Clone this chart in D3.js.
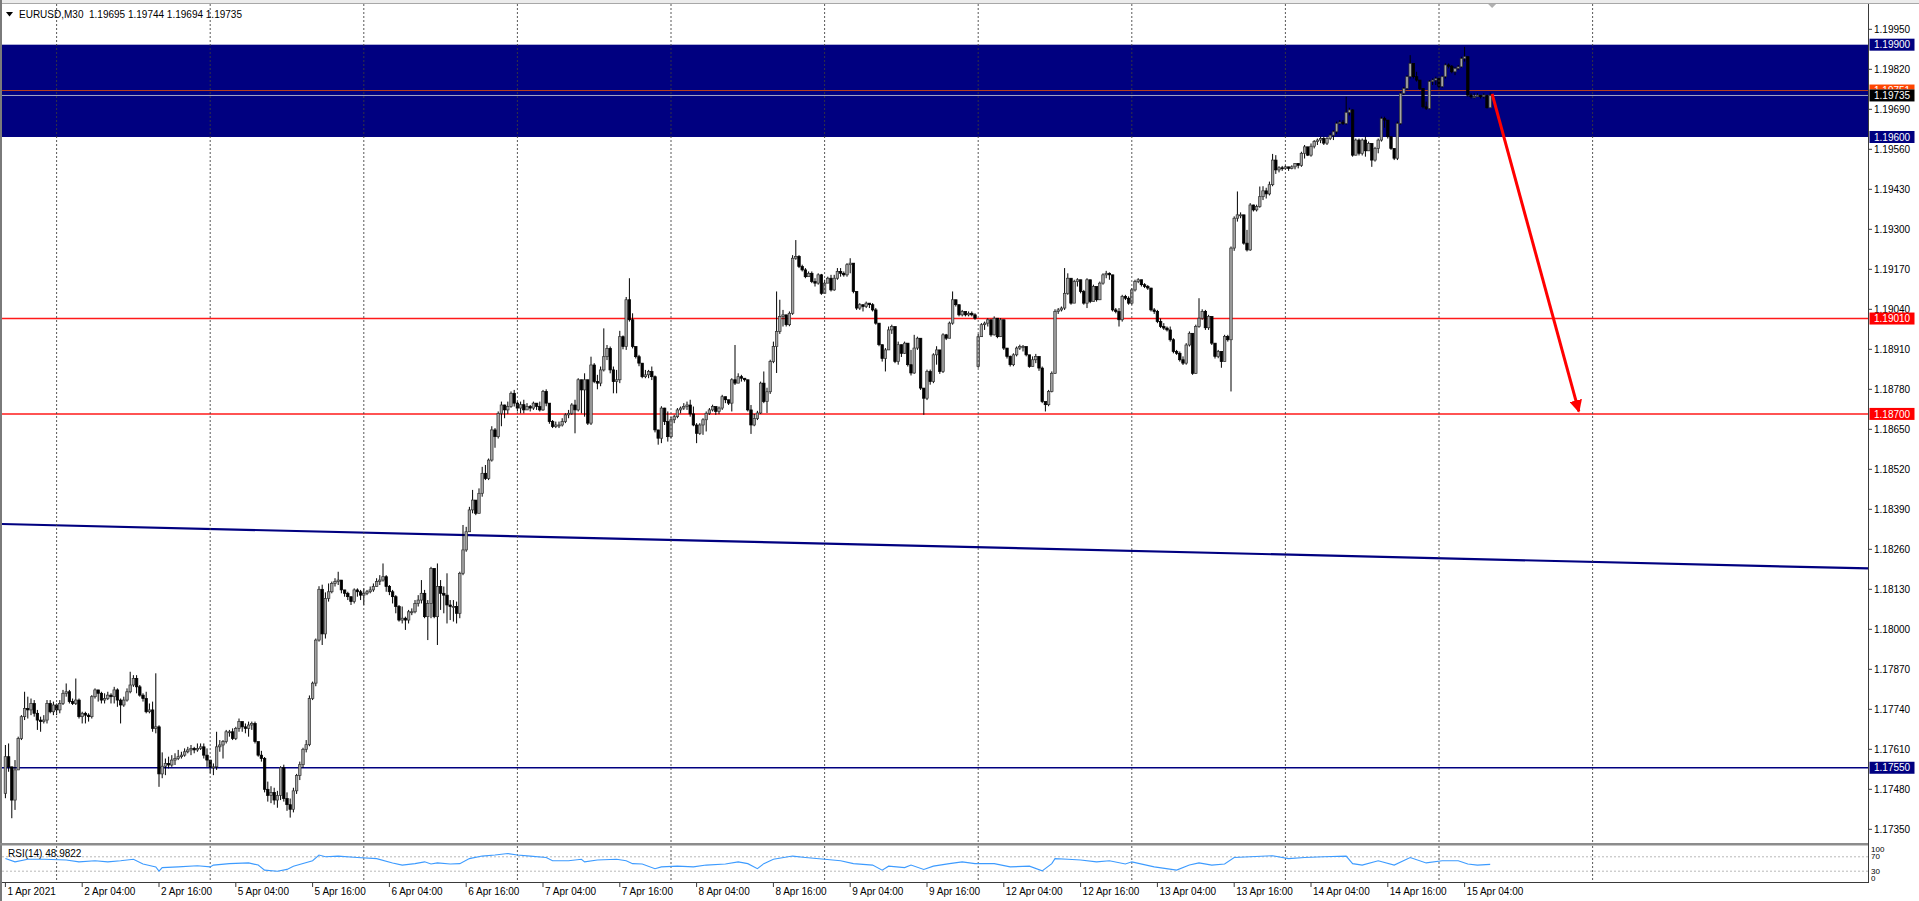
<!DOCTYPE html>
<html><head><meta charset="utf-8">
<script src="https://cdnjs.cloudflare.com/ajax/libs/d3/7.8.5/d3.min.js"></script>
<style>html,body{margin:0;padding:0;background:#fff;overflow:hidden}svg{display:block}text{font-family:"Liberation Sans",Arial,sans-serif}</style>
</head><body><svg id="c" width="1919" height="901"></svg>
<script>
// ---------------- DATA (EURUSD M30, bar 0 = 1 Apr 2021 16:00) ----------------
const opens=[1.17467,1.17586,1.17553,1.17445,1.17543,1.17645,1.17716,1.17743,1.17738,1.17759,
1.17727,1.17705,1.17700,1.17705,1.17759,1.17732,1.17754,1.17738,1.17759,1.17792,
1.17797,1.17765,1.17759,1.17770,1.17716,1.17727,1.17721,1.17716,1.17781,1.17803,
1.17792,1.17770,1.17775,1.17786,1.17781,1.17803,1.17770,1.17754,1.17770,1.17797,
1.17819,1.17840,1.17813,1.17786,1.17775,1.17732,1.17738,1.17678,1.17683,1.17530,
1.17555,1.17564,1.17559,1.17575,1.17580,1.17586,1.17591,1.17602,1.17608,1.17613,
1.17608,1.17613,1.17618,1.17591,1.17575,1.17553,1.17553,1.17618,1.17624,1.17635,
1.17667,1.17667,1.17645,1.17678,1.17700,1.17683,1.17678,1.17689,1.17694,1.17635,
1.17591,1.17580,1.17480,1.17460,1.17470,1.17445,1.17460,1.17550,1.17450,1.17430,
1.17415,1.17475,1.17525,1.17560,1.17610,1.17625,1.17775,1.17825,1.17965,1.18130,
1.17985,1.18100,1.18122,1.18149,1.18155,1.18160,1.18128,1.18117,1.18106,1.18090,
1.18128,1.18122,1.18111,1.18117,1.18122,1.18128,1.18139,1.18155,1.18160,1.18171,
1.18139,1.18122,1.18106,1.18074,1.18030,1.18036,1.18030,1.18057,1.18057,1.18084,
1.18095,1.18117,1.18041,1.18084,1.18198,1.18041,1.18139,1.18117,1.18111,1.18079,
1.18074,1.18074,1.18052,1.18182,1.18258,1.18317,1.18388,1.18420,1.18377,1.18442,
1.18507,1.18490,1.18550,1.18648,1.18626,1.18702,1.18729,1.18713,1.18724,1.18767,
1.18735,1.18719,1.18730,1.18713,1.18724,1.18719,1.18735,1.18724,1.18713,1.18773,
1.18735,1.18675,1.18659,1.18664,1.18664,1.18675,1.18697,1.18702,1.18729,1.18713,
1.18811,1.18778,1.18811,1.18670,1.18859,1.18805,1.18800,1.18843,1.18886,1.18913,
1.18843,1.18805,1.18811,1.18951,1.18919,1.19071,1.19006,1.18919,1.18886,1.18865,
1.18821,1.18827,1.18838,1.18821,1.18648,1.18621,1.18719,1.18675,1.18626,1.18681,
1.18691,1.18713,1.18719,1.18724,1.18729,1.18700,1.18664,1.18637,1.18664,1.18681,
1.18702,1.18713,1.18724,1.18708,1.18719,1.18756,1.18746,1.18735,1.18811,1.18800,
1.18821,1.18816,1.18811,1.18713,1.18664,1.18685,1.18703,1.18800,1.18740,1.18772,
1.18870,1.18919,1.18968,1.19017,1.19022,1.18990,1.19027,1.19206,1.19212,1.19179,
1.19168,1.19146,1.19157,1.19130,1.19125,1.19152,1.19092,1.19125,1.19141,1.19103,
1.19141,1.19163,1.19157,1.19152,1.19185,1.19190,1.19098,1.19044,1.19055,1.19049,
1.19060,1.19055,1.19038,1.18995,1.18925,1.18880,1.18908,1.18973,1.18984,1.18870,
1.18925,1.18897,1.18930,1.18860,1.18833,1.18914,1.18946,1.18784,1.18751,1.18838,
1.18805,1.18892,1.18908,1.18838,1.18957,1.18946,1.18995,1.19071,1.19055,1.19022,
1.19033,1.19022,1.19027,1.19022,1.18854,1.18951,1.18990,1.18995,1.19006,1.18957,
1.19011,1.18951,1.19006,1.18914,1.18887,1.18860,1.18892,1.18914,1.18919,1.18919,
1.18892,1.18854,1.18876,1.18887,1.18849,1.18740,1.18730,1.18773,1.18832,1.19033,
1.19038,1.19044,1.19092,1.19141,1.19060,1.19130,1.19136,1.19098,1.19060,1.19136,
1.19065,1.19114,1.19071,1.19125,1.19152,1.19157,1.19152,1.19038,1.19033,1.19006,
1.19082,1.19076,1.19060,1.19103,1.19130,1.19136,1.19120,1.19114,1.19109,1.19038,
1.19033,1.19000,1.18984,1.18979,1.18973,1.18941,1.18903,1.18897,1.18876,1.18865,
1.18924,1.18962,1.18832,1.18984,1.19011,1.19033,1.18980,1.19017,1.18930,1.18887,
1.18903,1.18870,1.18952,1.18941,1.19239,1.19336,1.19347,1.19347,1.19255,1.19233,
1.19379,1.19363,1.19374,1.19406,1.19425,1.19415,1.19445,1.19525,1.19493,1.19500,
1.19498,1.19503,1.19498,1.19503,1.19514,1.19508,1.19547,1.19568,1.19541,1.19570,
1.19585,1.19590,1.19595,1.19580,1.19595,1.19606,1.19617,1.19644,1.19648,1.19644,
1.19680,1.19688,1.19541,1.19590,1.19547,1.19590,1.19555,1.19579,1.19525,1.19563,
1.19590,1.19660,1.19655,1.19601,1.19563,1.19531,1.19644,1.19742,1.19758,1.19796,
1.19839,1.19796,1.19785,1.19758,1.19698,1.19693,1.19780,1.19785,1.19790,1.19764,
1.19796,1.19834,1.19830,1.19812,1.19823,1.19828,1.19855,1.19861,1.19736,1.19731,
1.19731,1.19736,1.19731,1.19736,1.19695];
const highs=[1.17624,1.17629,1.17553,1.17575,1.17651,1.17721,1.17797,1.17781,1.17775,1.17770,
1.17738,1.17716,1.17721,1.17770,1.17770,1.17765,1.17759,1.17770,1.17803,1.17824,
1.17803,1.17775,1.17840,1.17775,1.17732,1.17732,1.17727,1.17786,1.17808,1.17803,
1.17797,1.17792,1.17797,1.17792,1.17813,1.17808,1.17775,1.17781,1.17808,1.17862,
1.17851,1.17851,1.17819,1.17792,1.17797,1.17759,1.17765,1.17857,1.17688,1.17600,
1.17580,1.17586,1.17591,1.17597,1.17608,1.17602,1.17613,1.17618,1.17624,1.17618,
1.17629,1.17629,1.17629,1.17613,1.17575,1.17564,1.17667,1.17640,1.17640,1.17673,
1.17673,1.17678,1.17683,1.17710,1.17700,1.17694,1.17700,1.17700,1.17700,1.17635,
1.17605,1.17585,1.17505,1.17490,1.17485,1.17475,1.17555,1.17560,1.17470,1.17450,
1.17485,1.17530,1.17570,1.17615,1.17640,1.17785,1.17830,1.17970,1.18140,1.18145,
1.18120,1.18149,1.18155,1.18166,1.18187,1.18160,1.18128,1.18122,1.18106,1.18133,
1.18133,1.18128,1.18133,1.18128,1.18139,1.18149,1.18166,1.18176,1.18214,1.18176,
1.18144,1.18128,1.18111,1.18079,1.18074,1.18041,1.18063,1.18068,1.18095,1.18111,
1.18160,1.18128,1.18095,1.18203,1.18198,1.18214,1.18160,1.18139,1.18182,1.18095,
1.18095,1.18090,1.18187,1.18339,1.18333,1.18398,1.18453,1.18420,1.18458,1.18528,
1.18534,1.18555,1.18660,1.18654,1.18708,1.18740,1.18730,1.18740,1.18773,1.18778,
1.18740,1.18740,1.18746,1.18735,1.18729,1.18740,1.18735,1.18740,1.18778,1.18780,
1.18735,1.18680,1.18675,1.18675,1.18686,1.18702,1.18713,1.18735,1.18746,1.18816,
1.18811,1.18832,1.18811,1.18886,1.18865,1.18827,1.18854,1.18978,1.18924,1.18919,
1.18854,1.18843,1.18970,1.18955,1.19080,1.19141,1.19027,1.18920,1.18892,1.18865,
1.18843,1.18843,1.18854,1.18825,1.18648,1.18725,1.18720,1.18708,1.18690,1.18697,
1.18719,1.18724,1.18735,1.18740,1.18746,1.18724,1.18670,1.18670,1.18686,1.18708,
1.18719,1.18730,1.18724,1.18724,1.18762,1.18756,1.18746,1.18816,1.18924,1.18832,
1.18827,1.18816,1.18811,1.18729,1.18700,1.18710,1.18805,1.18838,1.18785,1.18876,
1.18935,1.19098,1.19071,1.19038,1.19022,1.19033,1.19216,1.19265,1.19216,1.19185,
1.19174,1.19163,1.19163,1.19141,1.19157,1.19155,1.19136,1.19146,1.19152,1.19152,
1.19174,1.19174,1.19163,1.19190,1.19206,1.19190,1.19098,1.19060,1.19055,1.19065,
1.19060,1.19060,1.19044,1.18995,1.18925,1.18914,1.18984,1.18990,1.18984,1.18935,
1.18925,1.18935,1.18930,1.18908,1.18957,1.18951,1.18946,1.18784,1.18844,1.18844,
1.18897,1.18920,1.18908,1.18962,1.18960,1.19000,1.19098,1.19071,1.19055,1.19038,
1.19033,1.19033,1.19033,1.19027,1.18960,1.18995,1.19000,1.19011,1.19006,1.19017,
1.19011,1.19011,1.19006,1.18914,1.18890,1.18897,1.18919,1.18925,1.18924,1.18919,
1.18892,1.18887,1.18895,1.18887,1.18854,1.18740,1.18778,1.18838,1.19040,1.19044,
1.19049,1.19174,1.19157,1.19141,1.19136,1.19141,1.19136,1.19103,1.19141,1.19136,
1.19120,1.19114,1.19130,1.19157,1.19165,1.19160,1.19152,1.19044,1.19044,1.19087,
1.19087,1.19082,1.19109,1.19136,1.19141,1.19136,1.19125,1.19119,1.19110,1.19044,
1.19038,1.19010,1.18995,1.18984,1.18984,1.18946,1.18908,1.18903,1.18887,1.18930,
1.18968,1.18962,1.18990,1.19076,1.19040,1.19038,1.19022,1.19017,1.18930,1.18908,
1.18903,1.18957,1.18957,1.19244,1.19342,1.19423,1.19355,1.19347,1.19298,1.19385,
1.19380,1.19380,1.19439,1.19440,1.19435,1.19455,1.19545,1.19541,1.19505,1.19506,
1.19508,1.19503,1.19508,1.19515,1.19515,1.19552,1.19574,1.19568,1.19579,1.19590,
1.19595,1.19601,1.19601,1.19600,1.19612,1.19622,1.19650,1.19655,1.19655,1.19731,
1.19695,1.19690,1.19595,1.19595,1.19595,1.19601,1.19585,1.19580,1.19568,1.19595,
1.19666,1.19666,1.19655,1.19601,1.19563,1.19650,1.19747,1.19763,1.19801,1.19866,
1.19839,1.19812,1.19785,1.19758,1.19715,1.19785,1.19790,1.19796,1.19790,1.19800,
1.19839,1.19839,1.19834,1.19828,1.19834,1.19861,1.19893,1.19861,1.19742,1.19742,
1.19742,1.19736,1.19742,1.19736,1.19744];
const lows=[1.17451,1.17537,1.17386,1.17413,1.17543,1.17640,1.17705,1.17710,1.17721,1.17716,
1.17673,1.17667,1.17694,1.17694,1.17727,1.17721,1.17721,1.17727,1.17754,1.17781,
1.17759,1.17754,1.17754,1.17710,1.17694,1.17694,1.17700,1.17710,1.17775,1.17765,
1.17759,1.17759,1.17770,1.17759,1.17759,1.17748,1.17694,1.17748,1.17765,1.17792,
1.17813,1.17792,1.17781,1.17765,1.17727,1.17727,1.17667,1.17662,1.17488,1.17516,
1.17526,1.17548,1.17553,1.17559,1.17575,1.17580,1.17586,1.17597,1.17591,1.17597,
1.17602,1.17608,1.17580,1.17553,1.17532,1.17526,1.17543,1.17602,1.17580,1.17629,
1.17651,1.17640,1.17640,1.17667,1.17667,1.17662,1.17651,1.17673,1.17629,1.17586,
1.17570,1.17470,1.17440,1.17435,1.17430,1.17420,1.17445,1.17440,1.17410,1.17388,
1.17405,1.17465,1.17510,1.17550,1.17600,1.17620,1.17770,1.17815,1.17960,1.17949,
1.17970,1.18090,1.18117,1.18139,1.18144,1.18117,1.18106,1.18095,1.18079,1.18084,
1.18106,1.18095,1.18079,1.18111,1.18117,1.18122,1.18139,1.18144,1.18155,1.18122,
1.18111,1.18084,1.18052,1.18025,1.18019,1.17998,1.18019,1.18046,1.18052,1.18074,
1.18084,1.18036,1.17965,1.18036,1.18036,1.17949,1.18063,1.18052,1.18019,1.18030,
1.18025,1.18019,1.18036,1.18176,1.18252,1.18317,1.18377,1.18371,1.18377,1.18431,
1.18485,1.18485,1.18545,1.18590,1.18620,1.18660,1.18686,1.18700,1.18720,1.18724,
1.18708,1.18702,1.18702,1.18713,1.18708,1.18713,1.18713,1.18708,1.18710,1.18725,
1.18668,1.18654,1.18654,1.18654,1.18659,1.18670,1.18686,1.18697,1.18637,1.18708,
1.18702,1.18691,1.18664,1.18664,1.18800,1.18780,1.18790,1.18838,1.18875,1.18832,
1.18767,1.18767,1.18800,1.18910,1.18908,1.19000,1.18913,1.18880,1.18855,1.18816,
1.18816,1.18816,1.18810,1.18640,1.18600,1.18605,1.18664,1.18610,1.18620,1.18670,
1.18686,1.18702,1.18713,1.18713,1.18691,1.18660,1.18605,1.18632,1.18632,1.18643,
1.18697,1.18708,1.18697,1.18699,1.18713,1.18735,1.18729,1.18708,1.18794,1.18800,
1.18805,1.18805,1.18708,1.18635,1.18660,1.18680,1.18700,1.18735,1.18703,1.18765,
1.18865,1.18833,1.18960,1.18984,1.18984,1.18985,1.19022,1.19201,1.19174,1.19163,
1.19141,1.19146,1.19125,1.19114,1.19120,1.19087,1.19092,1.19125,1.19098,1.19100,
1.19136,1.19146,1.19146,1.19146,1.19157,1.19092,1.19038,1.19038,1.19033,1.19044,
1.19044,1.19033,1.18990,1.18920,1.18870,1.18838,1.18908,1.18960,1.18865,1.18860,
1.18885,1.18895,1.18854,1.18825,1.18830,1.18908,1.18778,1.18697,1.18745,1.18795,
1.18800,1.18860,1.18830,1.18833,1.18940,1.18946,1.18990,1.19049,1.19017,1.19017,
1.19017,1.19017,1.19017,1.19006,1.18850,1.18950,1.18973,1.18984,1.18951,1.18955,
1.18946,1.18950,1.18908,1.18880,1.18854,1.18855,1.18887,1.18908,1.18903,1.18887,
1.18850,1.18854,1.18865,1.18840,1.18735,1.18708,1.18725,1.18770,1.18830,1.19025,
1.19033,1.19038,1.19087,1.19055,1.19060,1.19114,1.19092,1.19055,1.19044,1.19060,
1.19065,1.19065,1.19070,1.19120,1.19141,1.19136,1.19033,1.19027,1.18984,1.19000,
1.19070,1.19055,1.19055,1.19098,1.19125,1.19114,1.19109,1.19103,1.19033,1.19025,
1.18995,1.18979,1.18973,1.18968,1.18935,1.18897,1.18892,1.18870,1.18859,1.18860,
1.18919,1.18827,1.18830,1.18980,1.19006,1.18973,1.18973,1.18924,1.18880,1.18881,
1.18850,1.18870,1.18935,1.18773,1.19230,1.19325,1.19336,1.19250,1.19228,1.19230,
1.19358,1.19358,1.19370,1.19395,1.19400,1.19410,1.19440,1.19480,1.19485,1.19490,
1.19493,1.19490,1.19495,1.19495,1.19498,1.19503,1.19530,1.19538,1.19536,1.19563,
1.19574,1.19580,1.19574,1.19574,1.19590,1.19590,1.19610,1.19640,1.19639,1.19640,
1.19670,1.19536,1.19540,1.19540,1.19540,1.19536,1.19555,1.19503,1.19520,1.19547,
1.19585,1.19630,1.19595,1.19558,1.19525,1.19525,1.19640,1.19736,1.19753,1.19790,
1.19790,1.19780,1.19753,1.19693,1.19688,1.19690,1.19769,1.19769,1.19753,1.19760,
1.19790,1.19823,1.19807,1.19801,1.19818,1.19825,1.19845,1.19731,1.19725,1.19725,
1.19731,1.19725,1.19725,1.19693,1.19694];
const closes=[1.17586,1.17553,1.17445,1.17543,1.17645,1.17716,1.17743,1.17738,1.17759,1.17727,
1.17705,1.17700,1.17705,1.17759,1.17732,1.17754,1.17738,1.17759,1.17792,1.17797,
1.17765,1.17759,1.17770,1.17716,1.17727,1.17721,1.17716,1.17781,1.17803,1.17792,
1.17770,1.17775,1.17786,1.17781,1.17803,1.17770,1.17754,1.17770,1.17797,1.17819,
1.17840,1.17813,1.17786,1.17775,1.17732,1.17738,1.17678,1.17683,1.17530,1.17555,
1.17564,1.17559,1.17575,1.17580,1.17586,1.17591,1.17602,1.17608,1.17613,1.17608,
1.17613,1.17618,1.17591,1.17575,1.17553,1.17553,1.17618,1.17624,1.17635,1.17667,
1.17667,1.17645,1.17678,1.17700,1.17683,1.17678,1.17689,1.17694,1.17635,1.17591,
1.17580,1.17480,1.17460,1.17470,1.17445,1.17460,1.17550,1.17450,1.17430,1.17415,
1.17475,1.17525,1.17560,1.17610,1.17625,1.17775,1.17825,1.17965,1.18130,1.17985,
1.18100,1.18122,1.18149,1.18155,1.18160,1.18128,1.18117,1.18106,1.18090,1.18128,
1.18122,1.18111,1.18117,1.18122,1.18128,1.18139,1.18155,1.18160,1.18171,1.18139,
1.18122,1.18106,1.18074,1.18030,1.18036,1.18030,1.18057,1.18057,1.18084,1.18095,
1.18117,1.18041,1.18084,1.18198,1.18041,1.18139,1.18117,1.18111,1.18079,1.18074,
1.18074,1.18052,1.18182,1.18258,1.18317,1.18388,1.18420,1.18377,1.18442,1.18507,
1.18490,1.18550,1.18648,1.18626,1.18702,1.18729,1.18713,1.18724,1.18767,1.18735,
1.18719,1.18730,1.18713,1.18724,1.18719,1.18735,1.18724,1.18713,1.18773,1.18735,
1.18675,1.18659,1.18664,1.18664,1.18675,1.18697,1.18702,1.18729,1.18713,1.18811,
1.18778,1.18811,1.18670,1.18859,1.18805,1.18800,1.18843,1.18886,1.18913,1.18843,
1.18805,1.18811,1.18951,1.18919,1.19071,1.19006,1.18919,1.18886,1.18865,1.18821,
1.18827,1.18838,1.18821,1.18648,1.18621,1.18719,1.18675,1.18626,1.18681,1.18691,
1.18713,1.18719,1.18724,1.18729,1.18700,1.18664,1.18637,1.18664,1.18681,1.18702,
1.18713,1.18724,1.18708,1.18719,1.18756,1.18746,1.18735,1.18811,1.18800,1.18821,
1.18816,1.18811,1.18713,1.18664,1.18685,1.18703,1.18800,1.18740,1.18772,1.18870,
1.18919,1.18968,1.19017,1.19022,1.18990,1.19027,1.19206,1.19212,1.19179,1.19168,
1.19146,1.19157,1.19130,1.19125,1.19152,1.19092,1.19125,1.19141,1.19103,1.19141,
1.19163,1.19157,1.19152,1.19185,1.19190,1.19098,1.19044,1.19055,1.19049,1.19060,
1.19055,1.19038,1.18995,1.18925,1.18880,1.18908,1.18973,1.18984,1.18870,1.18925,
1.18897,1.18930,1.18860,1.18833,1.18914,1.18946,1.18784,1.18751,1.18838,1.18805,
1.18892,1.18908,1.18838,1.18957,1.18946,1.18995,1.19071,1.19055,1.19022,1.19033,
1.19022,1.19027,1.19022,1.19011,1.18951,1.18990,1.18995,1.19006,1.18957,1.19011,
1.18951,1.19006,1.18914,1.18887,1.18860,1.18892,1.18914,1.18919,1.18919,1.18892,
1.18854,1.18876,1.18887,1.18849,1.18740,1.18730,1.18773,1.18832,1.19033,1.19038,
1.19044,1.19092,1.19141,1.19060,1.19130,1.19136,1.19098,1.19060,1.19136,1.19065,
1.19114,1.19071,1.19125,1.19152,1.19157,1.19152,1.19038,1.19033,1.19006,1.19082,
1.19076,1.19060,1.19103,1.19130,1.19136,1.19120,1.19114,1.19109,1.19038,1.19033,
1.19000,1.18984,1.18979,1.18973,1.18941,1.18903,1.18897,1.18876,1.18865,1.18924,
1.18962,1.18832,1.18984,1.19011,1.19033,1.18980,1.19017,1.18930,1.18887,1.18903,
1.18870,1.18952,1.18941,1.19239,1.19336,1.19347,1.19347,1.19255,1.19233,1.19379,
1.19363,1.19374,1.19406,1.19425,1.19415,1.19445,1.19525,1.19493,1.19500,1.19498,
1.19503,1.19498,1.19503,1.19514,1.19508,1.19547,1.19568,1.19541,1.19570,1.19585,
1.19590,1.19595,1.19580,1.19595,1.19606,1.19617,1.19644,1.19648,1.19644,1.19680,
1.19688,1.19541,1.19590,1.19547,1.19590,1.19555,1.19579,1.19525,1.19563,1.19590,
1.19660,1.19655,1.19601,1.19563,1.19531,1.19644,1.19742,1.19758,1.19796,1.19839,
1.19796,1.19785,1.19758,1.19698,1.19693,1.19780,1.19785,1.19790,1.19764,1.19796,
1.19834,1.19830,1.19812,1.19823,1.19828,1.19855,1.19861,1.19736,1.19731,1.19731,
1.19736,1.19731,1.19736,1.19695,1.19735];

const priceTicks=[1.19950,1.19820,1.19690,1.19560,1.19430,1.19300,1.19170,1.19040,1.18910,1.18780,1.18650,
1.18520,1.18390,1.18260,1.18130,1.18000,1.17870,1.17740,1.17610,1.17480,1.17350];
const timeLabels=["1 Apr 2021","2 Apr 04:00","2 Apr 16:00","5 Apr 04:00","5 Apr 16:00","6 Apr 04:00","6 Apr 16:00",
"7 Apr 04:00","7 Apr 16:00","8 Apr 04:00","8 Apr 16:00","9 Apr 04:00","9 Apr 16:00","12 Apr 04:00","12 Apr 16:00",
"13 Apr 04:00","13 Apr 16:00","14 Apr 04:00","14 Apr 16:00","15 Apr 04:00"];
const timeLabelBars=[0,24,48,72,96,120,144,168,192,216,240,264,288,312,336,360,384,408,432,456];
const dayStartBars=[16,64,112,160,208,256,304,352,400,448,496];

const rsiBars=[0,3,7,12,19,23,28,32,36,40,43,47,48,49,54,60,64,65,70,76,79,81,85,88,90,96,98,100,104,110,116,121,124,128,131,133,135,139,142,145,149,153,157,160,164,169,171,176,180,181,185,191,194,196,199,203,205,210,215,219,225,229,232,235,237,240,246,250,256,261,265,271,274,276,281,283,287,290,295,299,303,309,314,320,324,327,328,332,336,341,345,350,352,359,366,370,373,377,381,384,389,396,401,406,412,419,421,424,429,434,439,444,449,454,457,460,464];
const rsiValues=[65,56,63,63,61,56,59,56,59,63,50,42,30,40,42,45,42,47,51,53,47,33,30,35,44,59,75,70,72,68,65,53,47,51,56,50,53,50,51,65,72,75,79,75,72,68,59,59,63,56,61,63,59,51,50,37,42,44,42,47,50,56,51,37,51,63,72,68,63,59,51,47,33,44,40,47,35,44,51,56,51,51,42,44,31,51,65,63,61,56,59,50,56,42,33,47,53,47,50,68,70,73,65,68,70,72,51,47,59,47,68,53,59,59,50,47,49];
const rsiLevels=[70,30];
const rsiAxisLabels=["100","70","30","0"];
const rsiAxisValues=[100,70,30,0];

const zoneTop=1.19900, zoneBottom=1.19600;
const redLevels=[1.19010,1.18700];
const blueLevel=1.17550;
const orangeLevel=1.19751;
const bidPrice=1.19735;
const trendBars=[0,464], trendPrices=[1.18342,1.18227];
const arrowBars=[464.6,491.7], arrowPrices=[1.19740,1.18708];
const symbolTitle="EURUSD,M30  1.19695 1.19744 1.19694 1.19735";
const rsiTitle="RSI(14) 48.9822";

// ---------------- LAYOUT ----------------
const W=1919,H=901;
const PANE_L=2, AXIS_X=1868.5, MAIN_T=4, MAIN_B=843, RSI_T=846, RSI_B=882;
const FIRST_X=5.4, STEP=3.2;
const x=d3.scaleLinear().domain([0,464]).range([FIRST_X,FIRST_X+464*STEP]);
const y=d3.scaleLinear().domain([1.17350,1.19950]).range([829.3,29.3]);
const yr=d3.scaleLinear().domain([0,100]).range([RSI_B,RSI_T]);
const svg=d3.select("#c");
svg.append("rect").attr("width",W).attr("height",H).attr("fill","#fff");
const defs=svg.append("defs");
defs.append("clipPath").attr("id","mc").append("rect").attr("x",PANE_L).attr("y",MAIN_T).attr("width",AXIS_X-PANE_L).attr("height",MAIN_B-MAIN_T);
defs.append("clipPath").attr("id","rc").append("rect").attr("x",PANE_L).attr("y",RSI_T).attr("width",AXIS_X-PANE_L).attr("height",RSI_B-RSI_T);
defs.append("clipPath").attr("id","oc").append("rect").attr("x",AXIS_X).attr("y",0).attr("width",60).attr("height",y(bidPrice)-6);

// window chrome
svg.append("rect").attr("x",0).attr("y",0).attr("width",W).attr("height",3).attr("fill","#ececec");
svg.append("line").attr("x1",0).attr("x2",W).attr("y1",3.5).attr("y2",3.5).attr("stroke","#a8a8a8");
svg.append("rect").attr("x",0).attr("y",0).attr("width",2).attr("height",H).attr("fill","#7a7a7a");

const main=svg.append("g").attr("clip-path","url(#mc)");
// zone
main.append("rect").attr("x",PANE_L).attr("width",AXIS_X-PANE_L)
  .attr("y",y(zoneTop)).attr("height",y(zoneBottom)-y(zoneTop)).attr("fill","#000080");
// horizontal levels
redLevels.forEach(v=>main.append("line").attr("x1",PANE_L).attr("x2",AXIS_X).attr("y1",y(v)).attr("y2",y(v)).attr("stroke","#ff1a1a").attr("stroke-width",1.5));
main.append("line").attr("x1",PANE_L).attr("x2",AXIS_X).attr("y1",y(blueLevel)).attr("y2",y(blueLevel)).attr("stroke","#000080").attr("stroke-width",1.6);
main.append("line").attr("x1",PANE_L).attr("x2",AXIS_X).attr("y1",y(orangeLevel)).attr("y2",y(orangeLevel)).attr("stroke","#b8401e").attr("stroke-width",1);
main.append("line").attr("x1",PANE_L).attr("x2",AXIS_X).attr("y1",y(bidPrice)).attr("y2",y(bidPrice)).attr("stroke","#a8a8c4").attr("stroke-width",1);
// trend line extended to pane edges
const tp=b=>trendPrices[0]+(trendPrices[1]-trendPrices[0])*(b-trendBars[0])/(trendBars[1]-trendBars[0]);
const bL=x.invert(PANE_L), bR=x.invert(AXIS_X);
main.append("line").attr("x1",PANE_L).attr("x2",AXIS_X).attr("y1",y(tp(bL))).attr("y2",y(tp(bR))).attr("stroke","#000080").attr("stroke-width",2.2);
// vertical grid
dayStartBars.forEach(b=>{
  svg.append("line").attr("x1",x(b)).attr("x2",x(b)).attr("y1",MAIN_T).attr("y2",MAIN_B).attr("stroke","#3c3c3c").attr("stroke-dasharray","2,2").attr("stroke-width",1).attr("opacity",0.85);
  svg.append("line").attr("x1",x(b)).attr("x2",x(b)).attr("y1",RSI_T).attr("y2",RSI_B).attr("stroke","#3c3c3c").attr("stroke-dasharray","2,2").attr("stroke-width",1).attr("opacity",0.85);
});
// candles
const n=Math.min(opens.length,highs.length,lows.length,closes.length);
const idx=d3.range(n);
const cg=main.append("g");
cg.selectAll("line.w").data(idx).join("line").attr("class","w")
  .attr("x1",i=>x(i)).attr("x2",i=>x(i))
  .attr("y1",i=>y(Math.max(highs[i],opens[i],closes[i])))
  .attr("y2",i=>y(Math.min(lows[i],opens[i],closes[i])))
  .attr("stroke","#000").attr("stroke-width",1);
const BW=2.5;
cg.selectAll("rect.b").data(idx).join("rect").attr("class","b")
  .attr("x",i=>x(i)-BW/2).attr("width",BW)
  .attr("y",i=>y(Math.max(opens[i],closes[i])))
  .attr("height",i=>Math.max(1,y(Math.min(opens[i],closes[i]))-y(Math.max(opens[i],closes[i]))))
  .attr("fill",i=>closes[i]>=opens[i]?"#a4a4a4":"#000000")
  .attr("stroke",i=>closes[i]>=opens[i]?"#303030":"#000").attr("stroke-width",0.7);
// arrow
defs.append("marker").attr("id","ah").attr("viewBox","0 0 10 10").attr("refX",9).attr("refY",5)
  .attr("markerWidth",4.2).attr("markerHeight",4.2).attr("orient","auto")
  .append("path").attr("d","M0,0 L10,5 L0,10 z").attr("fill","#ff0000");
svg.append("line").attr("x1",x(arrowBars[0])).attr("y1",y(arrowPrices[0]))
  .attr("x2",x(arrowBars[1])).attr("y2",y(arrowPrices[1]))
  .attr("stroke","#ff0000").attr("stroke-width",3).attr("marker-end","url(#ah)");
// chart shift marker
svg.append("path").attr("d",`M${x(464.6)-4},4 L${x(464.6)+4},4 L${x(464.6)},8 z`).attr("fill","#b0b0b0");

// pane separators and frame
svg.append("rect").attr("x",0).attr("y",MAIN_B).attr("width",AXIS_X).attr("height",RSI_T-MAIN_B-0.5).attr("fill","#8c8c8c");
svg.append("line").attr("x1",PANE_L).attr("x2",AXIS_X).attr("y1",RSI_B+0.5).attr("y2",RSI_B+0.5).attr("stroke","#3a3a3a");
svg.append("line").attr("x1",AXIS_X).attr("x2",AXIS_X).attr("y1",MAIN_T).attr("y2",RSI_B+1).attr("stroke","#3a3a3a");

// RSI pane
const rg=svg.append("g").attr("clip-path","url(#rc)");
rsiLevels.forEach(v=>rg.append("line").attr("x1",PANE_L).attr("x2",AXIS_X).attr("y1",yr(v)).attr("y2",yr(v)).attr("stroke","#b8b8b8").attr("stroke-dasharray","2,2"));
const rl=d3.line().x((d,i)=>x(rsiBars[i])).y(d=>yr(d));
rg.append("path").attr("d",rl(rsiValues.slice(0,rsiBars.length))).attr("fill","none").attr("stroke","#3d9bff").attr("stroke-width",1.1);
svg.append("text").attr("x",8).attr("y",857).attr("font-size",10).attr("fill","#000").text(rsiTitle);
rsiAxisLabels.forEach((t,i)=>svg.append("text").attr("x",AXIS_X+2.5).attr("y",yr(rsiAxisValues[i])+(i===0?6:i===3?-1:2.5)).attr("font-size",8).attr("fill","#000").text(t));

// price axis
priceTicks.forEach(v=>{
  svg.append("line").attr("x1",AXIS_X).attr("x2",AXIS_X+3.5).attr("y1",y(v)).attr("y2",y(v)).attr("stroke","#3a3a3a");
  svg.append("text").attr("x",AXIS_X+5.5).attr("y",y(v)+3.6).attr("font-size",10).attr("fill","#000").text(v.toFixed(5));
});
const tags=[[zoneTop,"#000080"],[zoneBottom,"#000080"],[redLevels[0],"#ff0000"],[redLevels[1],"#ff0000"],[blueLevel,"#000080"],[orangeLevel,"#ff4500"],[bidPrice,"#000000"]];
tags.forEach(([v,c])=>{
  const g=svg.append("g");
  if(v===orangeLevel) g.attr("clip-path","url(#oc)");
  g.append("rect").attr("x",AXIS_X+1).attr("y",y(v)-6).attr("width",45).attr("height",12).attr("fill",c);
  g.append("text").attr("x",AXIS_X+5.5).attr("y",y(v)+3.6).attr("font-size",10).attr("fill","#fff").text(v.toFixed(5));
});

// time axis
timeLabelBars.forEach((b,i)=>{
  svg.append("line").attr("x1",x(b)).attr("x2",x(b)).attr("y1",RSI_B+1).attr("y2",RSI_B+5).attr("stroke","#3a3a3a");
  svg.append("text").attr("x",x(b)+2).attr("y",895).attr("font-size",10).attr("fill","#000").text(timeLabels[i]);
});

// title
svg.append("path").attr("d","M6,12 L13,12 L9.5,16.5 z").attr("fill","#000");
svg.append("text").attr("x",19).attr("y",18).attr("font-size",10).attr("fill","#000").attr("xml:space","preserve").style("white-space","pre").text(symbolTitle);
</script></body></html>
